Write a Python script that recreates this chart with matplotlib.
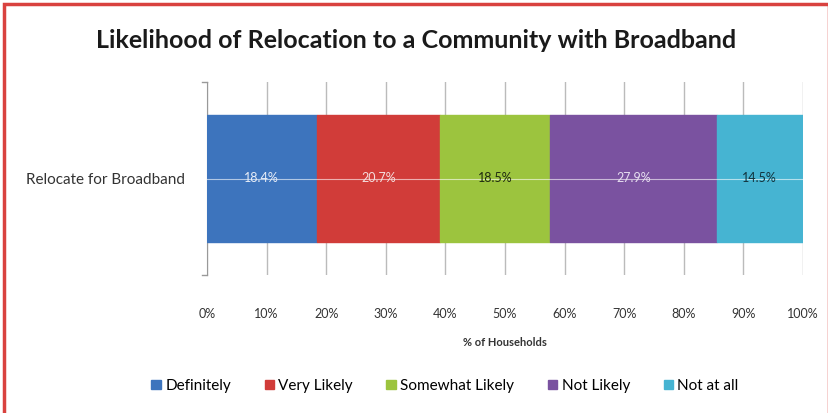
import matplotlib
matplotlib.use("Agg")
import matplotlib.pyplot as plt
from matplotlib.patches import Rectangle

categories = ["Relocate for Broadband"]
series_names = ["Definitely", "Very Likely", "Somewhat Likely", "Not Likely", "Not at all"]
values = [18.4, 20.7, 18.5, 27.9, 14.5]
colors = ["#3d74bd", "#d13c39", "#9cc43e", "#7a52a0", "#46b4d2"]
label_colors = ["#e8eef8", "#f4dede", "#1f2a10", "#e6def0", "#12323c"]
xticks = list(range(0, 101, 10))
xticklabels = [f"{t}%" for t in xticks]

plt.rcParams['font.family'] = ['Lato', 'DejaVu Sans']

W, H = 829, 413
fig = plt.figure(figsize=(W/100, H/100), dpi=100)
fig.patch.set_facecolor("white")

ax = fig.add_axes([207/W, 1-275/H, (803-207)/W, (275-82)/H])
ax.set_xlim(0, 100)
ax.set_ylim(-0.5, 0.5)

left = 0
for name, v, c, lc in zip(series_names, values, colors, label_colors):
    ax.barh(0, v, left=left, height=0.66, color=c, label=name, zorder=3,
            edgecolor=c)
    ax.text(left + v/2, 0, f"{v}%", ha="center", va="center", fontsize=9,
            color=lc, zorder=5)
    left += v
ax.plot([0, 100], [0, 0], color="white", lw=0.8, alpha=0.6, zorder=4)

ax.set_xticks(xticks)
ax.set_xticklabels(xticklabels, fontsize=9, color="#333333")
ax.tick_params(axis="x", length=0, pad=24)
ax.set_yticks([0])
ax.set_yticklabels(categories, fontsize=11, color="#333333")
ax.tick_params(axis="y", length=0, pad=16)
for y in (-0.5, 0.5):
    ax.plot([-0.9, 0], [y, y], color="#999999", lw=1, clip_on=False, zorder=4)
ax.grid(axis="x", color="#bbbbbb", lw=1, zorder=0)
for s in ["top", "right", "bottom"]:
    ax.spines[s].set_visible(False)
ax.spines["left"].set_color("#999999")
ax.set_xlabel("% of Households", fontsize=8, fontweight="bold", color="#333333", labelpad=12)

fig.text(416/W, 1-40/H, "Likelihood of Relocation to a Community with Broadband",
         ha="center", va="center", fontsize=18, fontweight="bold", color="#1a1a1a")

handles, labels = ax.get_legend_handles_labels()
fig.legend(handles, labels, loc="center", bbox_to_anchor=(445/W, 1-386/H), ncol=5,
           frameon=False, fontsize=11, handlelength=0.6, handleheight=0.6,
           handletextpad=0.3, columnspacing=2.2)

fig.patches.append(Rectangle((4/W, -0.02), (W-4)/W, 1-4/H+0.02, transform=fig.transFigure,
                             fill=False, edgecolor="#d9423f", lw=2.5))

fig.savefig("out.png", dpi=100)
